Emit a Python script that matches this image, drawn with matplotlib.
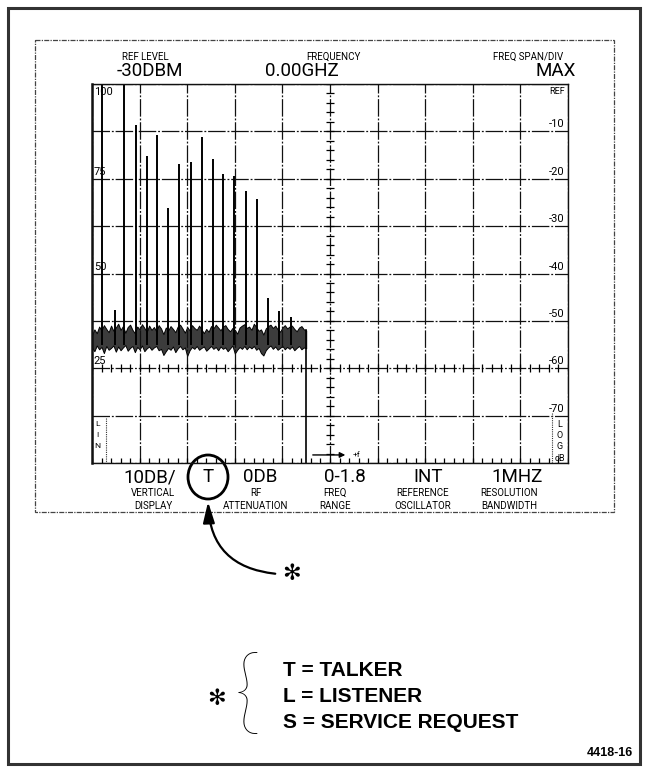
import numpy as np
import matplotlib
matplotlib.use("Agg")
import matplotlib.pyplot as plt
from matplotlib.patches import Rectangle, Ellipse, FancyArrowPatch

# ---------------- data ----------------
# x in graticule divisions (0..10), y in dB relative to reference level
peak_x  = [0.21, 0.48, 0.67, 0.92, 1.16, 1.37, 1.60, 1.83, 2.08, 2.31,
           2.54, 2.75, 2.98, 3.24, 3.47, 3.70, 3.93, 4.18]
peak_db = [0.0, -47.7, 0.0, -8.6, -15.2, -10.8, -26.2, -16.9, -16.5, -11.2,
           -15.8, -19.0, -19.4, -22.6, -24.3, -45.1, -47.9, -49.2]

noise_x  = [0.00, 0.05, 0.10, 0.15, 0.20, 0.25, 0.30, 0.35, 0.40, 0.45, 0.50, 0.55,
            0.60, 0.65, 0.70, 0.75, 0.80, 0.85, 0.90, 0.95, 1.00, 1.05, 1.10, 1.15,
            1.20, 1.25, 1.30, 1.35, 1.40, 1.45, 1.50, 1.55, 1.60, 1.65, 1.70, 1.75,
            1.80, 1.85, 1.90, 1.95, 2.00, 2.05, 2.10, 2.15, 2.20, 2.25, 2.30, 2.35,
            2.40, 2.45, 2.50, 2.55, 2.60, 2.65, 2.70, 2.75, 2.80, 2.85, 2.90, 2.95,
            3.00, 3.05, 3.10, 3.15, 3.20, 3.25, 3.30, 3.35, 3.40, 3.45, 3.50, 3.55,
            3.60, 3.65, 3.70, 3.75, 3.80, 3.85, 3.90, 3.95, 4.00, 4.05, 4.10, 4.15,
            4.20, 4.25, 4.30, 4.35, 4.40, 4.45, 4.50]
noise_hi = [-53.0, -51.8, -52.6, -51.2, -52.0, -50.9, -51.7, -52.4, -51.0, -52.1, -51.4, -50.6,
            -51.9, -51.1, -52.5, -51.3, -50.8, -51.9, -52.6, -51.2, -51.8, -50.7, -51.5, -52.3,
            -51.0, -51.9, -51.3, -52.2, -50.9, -51.6, -52.8, -51.4, -52.0, -51.1, -51.7, -52.4,
            -51.2, -50.8, -51.6, -52.5, -51.3, -52.0, -50.9, -51.5, -51.9, -51.0, -51.8, -52.6,
            -51.7, -52.3, -51.1, -51.6, -50.8, -51.4, -52.0, -51.2, -50.9, -51.7, -52.2, -51.5,
            -51.9, -52.7, -51.4, -51.0, -50.7, -51.5, -51.2, -51.9, -50.6, -51.3, -52.1, -51.8,
            -52.9, -51.6, -51.1, -50.8, -51.5, -51.0, -51.8, -52.3, -51.4, -50.9, -51.6, -51.2,
            -51.0, -51.7, -52.2, -51.4, -51.1, -51.8, -52.0]
noise_lo = [-55.6, -56.4, -55.2, -56.0, -55.5, -56.8, -55.3, -56.1, -55.7, -55.2, -56.5, -55.4,
            -56.2, -55.6, -55.1, -56.3, -55.7, -55.3, -56.6, -55.5, -56.0, -55.2, -56.4, -55.8,
            -55.4, -56.1, -55.6, -55.3, -56.2, -55.9, -57.2, -56.4, -55.7, -56.1, -55.4, -56.6,
            -55.8, -55.3, -56.0, -55.6, -57.4, -56.2, -55.5, -55.9, -55.3, -56.1, -55.7, -55.4,
            -56.3, -55.8, -55.3, -55.9, -55.5, -56.2, -55.4, -55.9, -55.6, -56.4, -55.8, -55.2,
            -56.9, -56.1, -55.5, -55.9, -55.3, -56.0, -55.4, -55.8, -55.3, -56.1, -55.7, -56.8,
            -57.3, -56.2, -55.6, -55.2, -55.9, -55.4, -56.1, -55.7, -55.3, -56.0, -55.5, -55.9,
            -55.4, -56.2, -55.7, -55.3, -56.0, -55.6, -55.8]
band_edge = 4.5

lin_labels = ["100", "75", "50", "25"]
lin_values = [0, -20, -40, -60]
log_labels = ["REF", "-10", "-20", "-30", "-40", "-50", "-60", "-70"]
log_values = [0, -10, -20, -30, -40, -50, -60, -70]

top_titles = ["REF LEVEL", "FREQUENCY", "FREQ SPAN/DIV"]
top_values = ["-30DBM", "0.00GHZ", "MAX"]
bottom_values = ["10DB/", "T", "0DB", "0-1.8", "INT", "1MHZ"]
bottom_line1 = ["VERTICAL", "RF", "FREQ", "REFERENCE", "RESOLUTION"]
bottom_line2 = ["DISPLAY", "ATTENUATION", "RANGE", "OSCILLATOR", "BANDWIDTH"]
legend_lines = ["T = TALKER", "L = LISTENER", "S = SERVICE REQUEST"]
figure_id = "4418-16"

# ---------------- figure ----------------
W, H = 647, 772
fig = plt.figure(figsize=(W / 100, H / 100), dpi=100)
fig.patch.set_facecolor("white")

NARROW = ["Roboto", "DejaVu Sans"]
BOLD = ["Liberation Sans", "DejaVu Sans"]

ov = fig.add_axes([0, 0, 1, 1])
ov.set_xlim(0, W)
ov.set_ylim(H, 0)
ov.axis("off")

# outer border and inner screen box
ov.add_patch(Rectangle((8, 8), 632, 756, fill=False, lw=2.2, ec="#333333"))
ov.add_patch(Rectangle((35, 40), 579, 472, fill=False, lw=0.9, ec="#444444",
                       ls=(0, (4, 1, 1, 1))))

# top labels
ov.text(145, 57, top_titles[0], ha="center", va="center", fontsize=7, family=NARROW)
ov.text(150, 71, top_values[0], ha="center", va="center", fontsize=13.5, family=NARROW)
ov.text(333, 57, top_titles[1], ha="center", va="center", fontsize=7, family=NARROW)
ov.text(302, 71, top_values[1], ha="center", va="center", fontsize=13.5, family=NARROW)
ov.text(528, 57, top_titles[2], ha="center", va="center", fontsize=7, family=NARROW)
ov.text(556, 71, top_values[2], ha="center", va="center", fontsize=13.5, family=NARROW)

# bottom labels
val_x = [150, 208, 260, 345, 428, 517]
for xv, s in zip(val_x, bottom_values):
    ov.text(xv, 477, s, ha="center", va="center", fontsize=13.5, family=NARROW)
sub_x = [153, 256, 335, 423, 509]
for xs, a, b in zip(sub_x, bottom_line1, bottom_line2):
    ov.text(xs, 493, a, ha="center", va="center", fontsize=7, family=NARROW)
    ov.text(xs, 506, b, ha="center", va="center", fontsize=7, family=NARROW)

# circle around T and curved arrow
ov.add_patch(Ellipse((208, 477), 40, 44, fill=False, lw=2.0, ec="black"))
ov.add_patch(FancyArrowPatch((278, 574), (208, 499),
                             connectionstyle="arc3,rad=-0.45",
                             arrowstyle="-|>,head_length=0.9,head_width=0.25",
                             mutation_scale=14, lw=1.6, color="black"))
ov.text(291, 574, "✻", ha="center", va="center", fontsize=16, family=["DejaVu Sans"])

# legend block
ov.text(216, 699, "✻", ha="center", va="center", fontsize=16, family=["DejaVu Sans"])
ov.text(247, 698, "{", ha="center", va="center", fontsize=68,
        family=["Lato", "DejaVu Sans"], fontweight=200)
for i, s in enumerate(legend_lines):
    ov.text(283, 670 + 26.5 * i, s, ha="left", va="center", fontsize=15,
            family=BOLD, fontweight="bold")
ov.text(633, 753, figure_id, ha="right", va="center", fontsize=9, family=BOLD, fontweight="bold")

# ---------------- graticule / spectrum axes ----------------
x0, x1, y0, y1 = 92, 568, 84, 463
ax = fig.add_axes([x0 / W, 1 - y1 / H, (x1 - x0) / W, (y1 - y0) / H])
ax.set_facecolor("none")
ax.set_xlim(0, 10)
ax.set_ylim(-80, 0)
ax.set_xticks(np.arange(0, 11))
ax.set_yticks(np.arange(-80, 1, 10))
ax.grid(True, color="#111111", lw=0.9, ls=(0, (14, 1.5, 1.5, 1.5)))
ax.tick_params(length=0, labelbottom=False, labelleft=False)
for sp in ax.spines.values():
    sp.set_color("#111111")
    sp.set_linewidth(1.0)
ax.spines["left"].set_linewidth(1.8)

# minor graticule ticks on centre lines and bottom edge
minor = np.arange(0, 10.01, 0.2)
ax.vlines(minor, -60.8, -59.2, color="black", lw=0.9)
ax.vlines(minor, -80, -79.0, color="black", lw=0.9)
minor_y = np.arange(-80, 0.01, 2)
ax.hlines(minor_y, 4.92, 5.08, color="black", lw=0.9)

# noise floor and spectral lines
ax.fill_between(noise_x, noise_lo, noise_hi, facecolor="#3c3c3c", edgecolor="black", lw=0.7)
ax.vlines(peak_x, -55.0, peak_db, color="black", lw=1.4)
ax.plot([band_edge, band_edge], [noise_hi[-1], -80], color="black", lw=1.2)
ax.annotate("", xy=(5.38, -78.3), xytext=(4.58, -78.3),
            arrowprops=dict(arrowstyle="-|>", color="black", lw=1.0, mutation_scale=8))
ax.text(5.48, -78.3, "+f", ha="left", va="center", fontsize=6, family=NARROW)

# scale labels
for s, v in zip(lin_labels, lin_values):
    va = "top" if v == 0 else "bottom"
    ax.text(0.04, v - 0.6 if v == 0 else v + 0.4, s, ha="left", va=va, fontsize=8, family=NARROW)
for s, v in zip(log_labels, log_values):
    va = "top" if v == 0 else "bottom"
    ax.text(9.93, v - 0.6 if v == 0 else v + 0.4, s, ha="right", va=va, fontsize=8 if v else 6.5,
            family=NARROW)

# LIN / LOG dB side tags
ax.plot([0.29, 0.29], [-70.5, -80], color="#333333", lw=0.8, ls=(0, (1, 1)))
ax.plot([9.66, 9.66], [-69.5, -80], color="#333333", lw=0.8, ls=(0, (1, 1)))
for i, ch in enumerate(["L", "I", "N"]):
    ax.text(0.12, -71.8 - 2.3 * i, ch, ha="center", va="center", fontsize=6, family=NARROW)
for i, ch in enumerate(["L", "O", "G", "dB"]):
    ax.text(9.83, -71.8 - 2.4 * i, ch, ha="center", va="center", fontsize=6.5, family=NARROW)

fig.savefig("out.png", dpi=100, facecolor="white")
